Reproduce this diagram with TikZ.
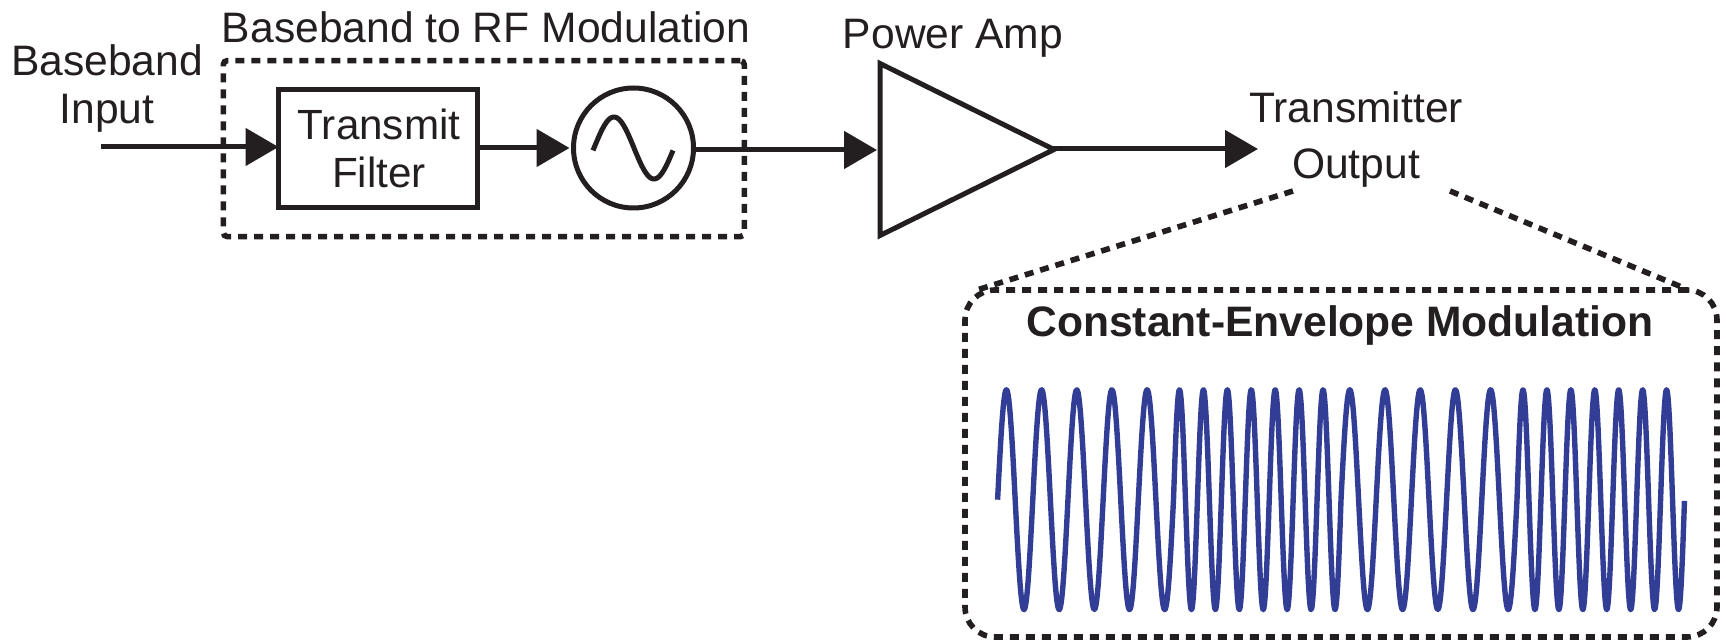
\documentclass[tikz,border=0pt]{standalone}
\usepackage{fontspec}
\setmainfont{Liberation Sans}
\usetikzlibrary{arrows.meta,shapes.geometric,calc}
\definecolor{ink}{HTML}{231F20}
\definecolor{wave}{HTML}{323E96}
\tikzset{
  x=0.5pt,y=-0.5pt,
  label text/.style={text=ink,font=\fontsize{21.3}{24}\selectfont,align=center,inner sep=0pt},
  solid part/.style={draw=ink,line width=2.5pt},
  flow/.style={draw=ink,line width=2.5pt,-{Triangle[length=16.5pt,width=18.5pt,fill=ink]}},
  dot box/.style={draw=ink,line width=2.8pt,dash pattern=on 4.5pt off 3.5pt,inner sep=0pt,outer sep=0pt},
  zoom line/.style={draw=ink,line width=2.8pt,dash pattern=on 4.5pt off 3.5pt},
  sine/.style={draw=wave,line width=2.7pt,line join=round},
}
\begin{document}
\begin{tikzpicture}
\useasboundingbox (0,0) rectangle (1726,641);
% dashed boxes
\node[dot box,rounded corners=2pt,minimum width=260.5pt,minimum height=88pt] (modbox) at (483.8,148.6) {};
\node[dot box,rounded corners=15pt,minimum width=376pt,minimum height=173.5pt] (envbox) at (1341,463.5) {};
% blocks
\node[solid part,minimum width=99.5pt,minimum height=59pt,inner sep=0pt,outer sep=0pt] (filt) at (378,148.5) {};
\node[label text,font=\fontsize{21.1}{24.4}\selectfont] (filttext) at (379,148.5) {Transmit\\Filter};
\node[solid part,circle,minimum size=60pt,inner sep=0pt,outer sep=0pt] (osc) at (633.5,148) {};
\draw[solid part,line width=2.5pt,line join=round] plot[domain=593:673,samples=60,smooth] (\x,{148-31*sin((\x-594)*4.5)});
\node[solid part,isosceles triangle,isosceles triangle stretches,shape border rotate=0,
  minimum width=86pt,minimum height=87pt,inner sep=0pt,outer sep=0pt,anchor=lower side,line join=miter] (amp) at (880,149.5) {};
% text
\node[label text] (bbin) at (107,88) {Baseband\\Input};
\node[label text] (modlabel) at (486,27) {Baseband to RF Modulation};
\node[label text] (amplabel) at (953,38) {Power Amp};
\node[label text,font=\fontsize{21.3}{28}\selectfont] (outlabel) at (1356,139) {Transmitter\\Output};
\node[label text,font=\bfseries\fontsize{21.3}{24}\selectfont] (envlabel) at (1340,325) {Constant-Envelope Modulation};
% connectors
\coordinate (instart) at (101,147);
\coordinate (outend) at (1258,149);
\draw[flow] (instart) -- (instart -| filt.west);
\draw[flow,shorten >=2pt] (filt.east |- osc.west) -- (osc.west);
\coordinate (oscout) at ($(osc.east)+(0,2)$);
\draw[flow] (oscout) -- (877,150);
\draw[flow] (1053,149) -- (outend);
% zoom lines
\coordinate (zl1) at (1293,191);
\coordinate (zl2) at (977,290);
\coordinate (zr1) at (1450,191);
\coordinate (zr2) at (1684,288);
\draw[zoom line] (zl1) -- (zl2);
\draw[zoom line] (zr1) -- (zr2);
% waveform
\draw[sine] plot[variable=\t,domain=0:5,samples=220] ({997.6+\t*35.18},{499.7-110*sin(\t*360)})
  -- plot[variable=\t,domain=0:7,samples=290] ({1173.5+\t*23.93},{499.7-110*sin(\t*360)})
  -- plot[variable=\t,domain=0:5,samples=220] ({1341+\t*35.2},{499.7-110*sin(\t*360)})
  -- plot[variable=\t,domain=0:7,samples=290] ({1517+\t*23.93},{499.7-110*sin(\t*360)});
\end{tikzpicture}
\end{document}
